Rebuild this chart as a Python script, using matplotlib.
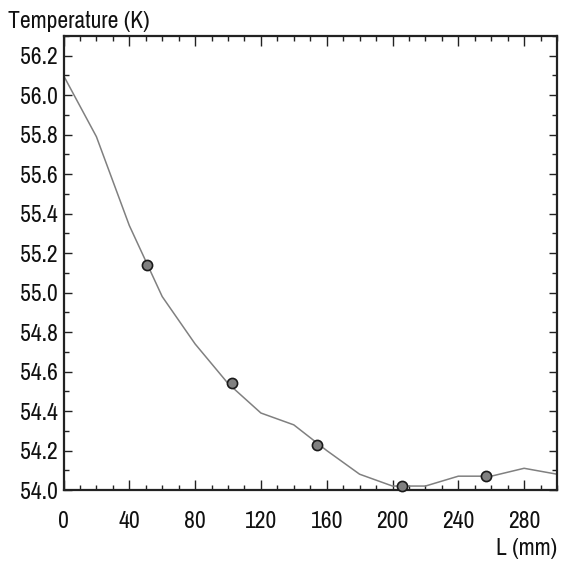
import matplotlib
matplotlib.use('Agg')
import matplotlib.pyplot as plt
from matplotlib.ticker import MultipleLocator, FormatStrFormatter

# curve values
L_line = [0, 20, 40, 60, 80, 100, 120, 140, 160, 180, 200, 220, 240, 260, 280, 300]
T_line = [56.10, 55.79, 55.34, 54.98, 54.74, 54.54, 54.39, 54.33, 54.20, 54.08,
          54.02, 54.02, 54.07, 54.07, 54.11, 54.08]

# measured points
L_pts = [51, 102.5, 154, 205.5, 257]
T_pts = [55.14, 54.54, 54.23, 54.02, 54.07]

plt.rcParams['font.family'] = ['Archivo Narrow', 'Roboto Condensed', 'DejaVu Sans']

fig = plt.figure(figsize=(5.62, 5.61), dpi=100)
ax = fig.add_axes([63.5 / 562, 1 - 490 / 561, (557 - 63.5) / 562, (490 - 36) / 561])

ax.plot(L_line, T_line, color='#808080', lw=1.1, zorder=2)
ax.plot(L_pts, T_pts, 'o', ms=7.3, mfc='#808080', mec='#1a1a1a', mew=1.2, zorder=3,
        clip_on=False)

ax.set_xlim(0, 300)
ax.set_ylim(54.0, 56.3)
ax.xaxis.set_major_locator(MultipleLocator(40))
ax.xaxis.set_minor_locator(MultipleLocator(10))
ax.yaxis.set_major_locator(MultipleLocator(0.2))
ax.yaxis.set_minor_locator(MultipleLocator(0.1))
ax.yaxis.set_major_formatter(FormatStrFormatter('%.1f'))

ax.tick_params(which='both', direction='in', top=True, right=True, color='#222222',
               width=1.0, labelsize=17, labelcolor='#111111')
ax.tick_params(axis='x', which='major', length=7, pad=15)
ax.tick_params(axis='y', which='major', length=6, pad=4)
ax.tick_params(which='minor', length=3.5)
for s in ax.spines.values():
    s.set_color('#222222')
    s.set_linewidth(1.6)

fig.text(8 / 562, 1 - 11 / 561, 'Temperature (K)', ha='left', va='top',
         fontsize=17, color='#111111')
fig.text(557 / 562, 1 - 538 / 561, 'L (mm)', ha='right', va='top',
         fontsize=17, color='#111111')

fig.savefig('out.png', dpi=100)
